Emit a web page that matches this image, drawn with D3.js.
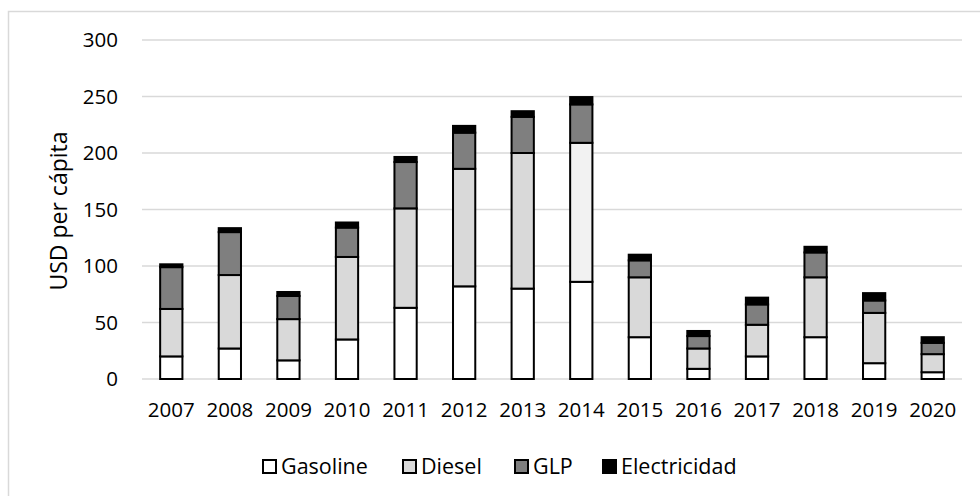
<!DOCTYPE html>
<html>
<head>
<meta charset="utf-8">
<script src="https://cdn.jsdelivr.net/npm/d3@7"></script>
<style>
  body { margin: 0; background: #fff; }
  text { font-family: "Open Sans", sans-serif; fill: #000; }
</style>
</head>
<body>
<svg id="chart"></svg>
<script>
const width = 980;
const height = 496;

// values (USD per cápita)
const years = ['2007','2008','2009','2010','2011','2012','2013','2014','2015','2016','2017','2018','2019','2020'];
const gasoline = [20, 27, 16.5, 35, 63, 82, 80, 86, 37, 9, 20, 37, 14, 6];
const diesel = [42, 65, 36.5, 73, 88, 104, 120, 123, 53, 18, 28, 53, 44.5, 16];
const glp = [37, 38, 20.5, 26, 41, 32, 32, 34, 15, 11, 18, 22, 11, 10];
const electricidad = [2.5, 3.5, 3.5, 4.5, 4.5, 6, 5, 6.5, 5, 4.5, 6, 5, 6.5, 5];
const seriesNames = ['Gasoline', 'Diesel', 'GLP', 'Electricidad'];
const yTicks = [0, 50, 100, 150, 200, 250, 300];

const fills = {Gasoline: '#ffffff', Diesel: '#d9d9d9', GLP: '#7f7f7f', Electricidad: '#000000'};

const svg = d3.select('#chart')
    .attr('width', width)
    .attr('height', height);

// outer chart frame
svg.append('rect')
    .attr('x', 8.5).attr('y', 11.5)
    .attr('width', 1000).attr('height', 600)
    .attr('fill', 'none')
    .attr('stroke', '#d9d9d9')
    .attr('stroke-width', 1.5);

const x = d3.scaleBand().domain(years).range([142, 962]).paddingInner(0.62).paddingOuter(0.31);
const y = d3.scaleLinear().domain([0, 300]).range([379, 40]);

// gridlines
svg.append('g').selectAll('line')
    .data(yTicks).enter()
    .append('line')
    .attr('x1', 142).attr('x2', 962)
    .attr('y1', d => y(d)).attr('y2', d => y(d))
    .attr('stroke', '#d9d9d9')
    .attr('stroke-width', 1.5);

// y tick labels
svg.append('g').selectAll('text')
    .data(yTicks).enter()
    .append('text')
    .attr('x', 118)
    .attr('y', d => y(d))
    .attr('dy', '0.36em')
    .attr('text-anchor', 'end')
    .attr('font-size', 20.5)
    .text(d => d);

// x tick labels
svg.append('g').selectAll('text')
    .data(years).enter()
    .append('text')
    .attr('x', d => x(d) + x.bandwidth() / 2)
    .attr('y', 417)
    .attr('text-anchor', 'middle')
    .attr('font-size', 20.5)
    .text(d => d);

// y title
svg.append('text')
    .attr('transform', 'translate(67, 211) rotate(-90)')
    .attr('text-anchor', 'middle')
    .attr('font-size', 23)
    .text('USD per cápita');

// stacked bars
const rows = years.map((yr, i) => ({
    year: yr,
    Gasoline: gasoline[i],
    Diesel: diesel[i],
    GLP: glp[i],
    Electricidad: electricidad[i]
}));
const stacked = d3.stack().keys(seriesNames)(rows);

svg.append('g').selectAll('g')
    .data(stacked).enter()
    .append('g')
    .each(function(layer) {
        d3.select(this).selectAll('rect')
            .data(layer).enter()
            .append('rect')
            .attr('x', d => x(d.data.year))
            .attr('y', d => y(d[1]))
            .attr('width', x.bandwidth())
            .attr('height', d => y(d[0]) - y(d[1]))
            // 2014 diesel is drawn lighter in the original
            .attr('fill', d => (layer.key == 'Diesel' && d.data.year == '2014') ? '#f2f2f2' : fills[layer.key])
            .attr('stroke', '#000')
            .attr('stroke-width', 2);
    });

// legend
const legendX = [262, 402, 514, 602];
const legend = svg.append('g').selectAll('g')
    .data(seriesNames).enter()
    .append('g')
    .attr('transform', (d, i) => `translate(${legendX[i]}, 459)`);

legend.append('rect')
    .attr('x', 1).attr('y', 1)
    .attr('width', 13).attr('height', 13)
    .attr('fill', d => fills[d])
    .attr('stroke', '#000')
    .attr('stroke-width', 2);

legend.append('text')
    .attr('x', 19)
    .attr('y', 15)
    .attr('font-size', 21.5)
    .text(d => d);
</script>
</body>
</html>
